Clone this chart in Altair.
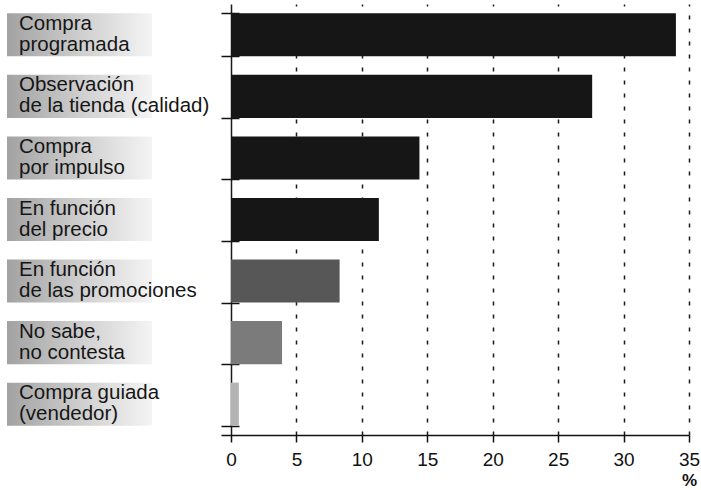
import altair as alt
import pandas as pd

categories = [
    "Compra\nprogramada",
    "Observación\nde la tienda (calidad)",
    "Compra\npor impulso",
    "En función\ndel precio",
    "En función\nde las promociones",
    "No sabe,\nno contesta",
    "Compra guiada\n(vendedor)",
]
values = [34.0, 27.6, 14.4, 11.3, 8.3, 3.9, 0.6]
tick_values = [0, 5, 10, 15, 20, 25, 30, 35]

bar_colors = ["#161616", "#161616", "#161616", "#161616", "#575757", "#7b7b7b", "#b3b3b3"]

df = pd.DataFrame({"motivo": categories, "pct": values})

y_scale = alt.Scale(domain=categories, paddingInner=0.3, paddingOuter=0.15)

label_bg = alt.Chart(df).mark_rect(
    color=alt.Gradient(
        gradient="linear",
        stops=[
            alt.GradientStop(color="#a2a2a2", offset=0),
            alt.GradientStop(color="#d2d2d2", offset=0.55),
            alt.GradientStop(color="#f4f4f4", offset=1),
        ],
        x1=0, x2=1, y1=0, y2=0,
    )
).encode(
    y=alt.Y("motivo:N", scale=y_scale, axis=None),
    x=alt.value(7),
    x2=alt.value(152),
)

label_text = alt.Chart(df).mark_text(
    align="left", baseline="middle", lineBreak="\n", lineHeight=21, dy=-11,
    fontSize=20.5, font="Liberation Sans", color="#161616",
).encode(
    y=alt.Y("motivo:N", scale=y_scale, axis=None),
    x=alt.value(19),
    text="motivo:N",
)

left = alt.layer(label_bg, label_text).properties(width=221, height=431)

grid_dash = {"condition": {"test": "datum.value == 0", "value": []}, "value": [4, 9]}

bars = alt.Chart(df).mark_bar().encode(
    x=alt.X(
        "pct:Q",
        scale=alt.Scale(domain=[-0.764, 35], nice=False, zero=False),
        axis=alt.Axis(
            values=tick_values, title="%", grid=True, gridDash=grid_dash,
            gridColor="#1a1a1a", gridWidth=1.5, gridOpacity=1,
            domainColor="#111111", domainWidth=1.5,
            tickColor="#111111", tickWidth=1.5, tickSize=7,
            labelFont="Liberation Sans", labelFontSize=19, labelColor="#111111",
            labelPadding=8, labelFlush=False,
            titleFont="Liberation Sans", titleFontSize=17, titleFontWeight="bold",
            titleColor="#111111", titleX=468, titleY=45, titleAlign="center",
            titleBaseline="middle",
        ),
    ),
    x2=alt.datum(0),
    y=alt.Y(
        "motivo:N", scale=y_scale, title=None,
        axis=alt.Axis(labels=False, domain=False, title=None, tickBand="extent",
                      tickSize=18, offset=-18, tickColor="#111111", tickWidth=1.5,
                      grid=False),
    ),
    color=alt.Color("motivo:N", scale=alt.Scale(domain=categories, range=bar_colors), legend=None),
).properties(width=468, height=431)

chart = alt.hconcat(left, bars, spacing=0, bounds="flush").properties(
    padding={"left": 0, "top": 4, "right": 0, "bottom": 0},
    background="white",
).configure_view(strokeWidth=0)

chart.save("out.html", embed_options={"renderer": "svg", "actions": False})
